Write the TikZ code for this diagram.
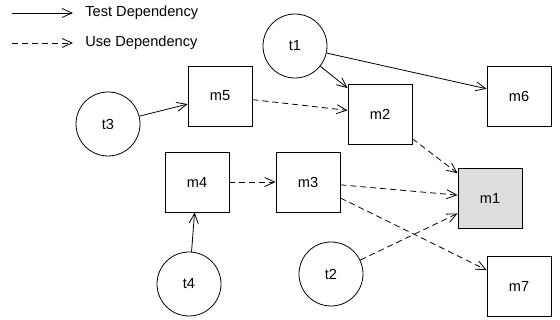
\documentclass[tikz,border=0pt]{standalone}
\usepackage{fontspec}
\setmainfont{Liberation Sans}
\usetikzlibrary{arrows.meta}
\begin{document}
\begin{tikzpicture}[x=1pt,y=-1pt,
  font=\fontsize{14.6}{17}\selectfont,
  every path/.style={line width=0.8pt},
  modbox/.style={draw, line width=0.8pt, minimum width=64pt, minimum height=60pt, inner sep=0pt},
  testcirc/.style={draw, circle, line width=0.8pt, minimum size=64pt, inner sep=0pt},
  testdep/.style={-{Straight Barb[length=10pt,width=9pt]}, line width=0.8pt},
  usedep/.style={-{Straight Barb[length=10pt,width=9pt]}, line width=0.8pt, dash pattern=on 6pt off 4pt}]
\useasboundingbox (0,0) rectangle (560,320);
% legend
\coordinate (la1) at (12,13);
\coordinate (lb1) at (73,13);
\coordinate (la2) at (12,43);
\coordinate (lb2) at (73,43);
\node[anchor=west, inner sep=0pt] (lt1) at (85,13) {Test Dependency};
\node[anchor=west, inner sep=0pt] (lt2) at (85,43) {Use Dependency};
\draw[testdep] (la1) -- (lb1);
\draw[usedep] (la2) -- (lb2);
% nodes
\node[testcirc] (t1) at (295,46) {t1};
\node[testcirc] (t3) at (108,124) {t3};
\node[testcirc] (t4) at (189,284) {t4};
\node[testcirc] (t2) at (331,274) {t2};
\node[modbox] (m5) at (220,96) {m5};
\node[modbox] (m2) at (380,114) {m2};
\node[modbox] (m6) at (519,96) {m6};
\node[modbox] (m4) at (197,182) {m4};
\node[modbox] (m3) at (308,182) {m3};
\node[modbox, fill={rgb,255:red,221;green,221;blue,221}] (m1) at (490,198) {m1};
\node[modbox] (m7) at (519,286) {m7};
% test dependencies
\draw[testdep] (t1) -- (m2);
\draw[testdep] (t1) -- (m6);
\draw[testdep] (t3) -- (m5);
\draw[testdep] (t4) -- (m4);
% use dependencies
\draw[usedep] (m5) -- (m2);
\draw[usedep] (m2) -- (m1);
\draw[usedep] (m4) -- (m3);
\draw[usedep] (m3) -- (m1);
\draw[usedep] (m3) -- (m7);
\draw[usedep] (t2) -- (m1);
\end{tikzpicture}
\end{document}
